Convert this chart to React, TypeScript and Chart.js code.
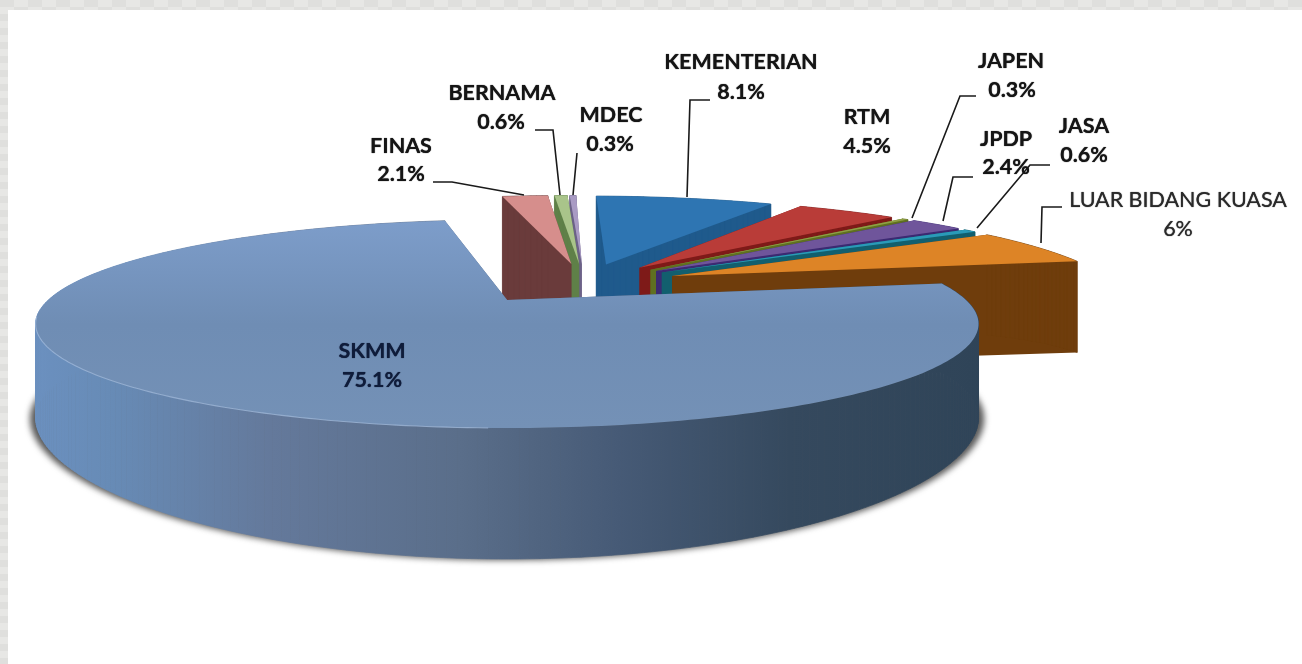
import React, { useEffect, useRef } from "react";
import { Chart, registerables } from "chart.js";

Chart.register(...registerables);

// ---- data ----
const categories = ["KEMENTERIAN", "RTM", "JAPEN", "JPDP", "JASA", "LUAR BIDANG KUASA", "SKMM", "FINAS", "BERNAMA", "MDEC"];
const shares = [8.1, 4.5, 0.3, 2.4, 0.6, 6, 75.1, 2.1, 0.6, 0.3];
const topColors = ["#2e75b2", "#b93c38", "#8f9f45", "#6f559b", "#2a9ab8", "#dd8426", "#7592ba", "#d68e8c", "#a9c48a", "#a99bc4"];
const wallColors = ["#1f5a8c", "#7e1a18", "#5f7020", "#3c2a72", "#125f6e", "#6f3d0c", "#556f90", "#6a3b3b", "#5f8048", "#6c6288"];

// ---- view ----
const ROTATION_DEG = 1.2;
const EXPLODE = 0.22;
const CENTRE = { x: 0.173, y: -0.18 };
const BIG_SLICE_SHIFT = -0.048;
const VIEW = { dx: -143, dy: -32, bx: 1.382, ay: 0.297, k: 0.23, h0: 0.271, h1: 0.032, h2: 0.0916 };

const labelAnchors = [
  { x: 741, y: 62, px: 741, py: 92 },
  { x: 867, y: 117, px: 867, py: 146 },
  { x: 1011, y: 61, px: 1012, py: 90 },
  { x: 1006, y: 139, px: 1006, py: 167 },
  { x: 1084, y: 126, px: 1084, py: 155 },
  { x: 1178, y: 200, px: 1178, py: 229 },
  { x: 372, y: 351, px: 372, py: 380 },
  { x: 401, y: 146, px: 401, py: 174 },
  { x: 502, y: 93, px: 501, py: 122 },
  { x: 611, y: 115, px: 610, py: 144 },
];
const leaders: ([number, number][] | null)[] = [
  [[710, 100], [690, 100], [687, 197]],
  null,
  [[976, 96], [960, 96], [912, 218]],
  [[973, 177], [953, 177], [943, 221]],
  [[1050, 165], [1030, 165], [977, 228]],
  [[1062, 207], [1042, 207], [1041, 243]],
  null,
  [[433, 182], [452, 182], [524, 195]],
  [[535, 130], [553, 130], [560, 195]],
  [[577, 153], [573, 195]],
];

const pie3d = {
  id: "pie3d",
  beforeDatasetDraw(chart: any) {
    const ctx: CanvasRenderingContext2D = chart.ctx;
    const meta = chart.getDatasetMeta(0);
    const first = meta.data[0];
    const R = first.outerRadius;
    const ox = first.x + VIEW.dx;
    const oy = first.y + VIEW.dy;
    const B = R * VIEW.bx, A = R * VIEW.ay;
    const project = (wx: number, wy: number, low: boolean) => {
      const s = 1 / (1 - VIEW.k * wy);
      const drop = low ? R * (VIEW.h0 + VIEW.h1 * wy + VIEW.h2 * wy * wy) : 0;
      return [ox + B * wx * s, oy + A * wy * s + drop];
    };
    const poly = (pts: number[][]) => {
      ctx.beginPath();
      pts.forEach((p, i) => (i ? ctx.lineTo(p[0], p[1]) : ctx.moveTo(p[0], p[1])));
      ctx.closePath();
    };
    const order = meta.data
      .map((el: any, i: number) => ({ el, i, mid: (el.startAngle + el.endAngle) / 2 }))
      .sort((a: any, b: any) => Math.sin(a.mid) - Math.sin(b.mid));

    for (const { el, i, mid } of order) {
      const big = shares[i] > 50;
      const ax = CENTRE.x + EXPLODE * Math.cos(mid) + (big ? BIG_SLICE_SHIFT : 0);
      const ay = CENTRE.y + EXPLODE * Math.sin(mid);
      const steps = Math.max(2, Math.ceil(((el.endAngle - el.startAngle) * 180) / Math.PI));
      const world: number[][] = [];
      for (let n = 0; n <= steps; n++) {
        const t = el.startAngle + ((el.endAngle - el.startAngle) * n) / steps;
        world.push([ax + Math.cos(t), ay + Math.sin(t)]);
      }
      const top = world.map((w) => project(w[0], w[1], false));
      const low = world.map((w) => project(w[0], w[1], true));
      const apexT = project(ax, ay, false);
      const apexL = project(ax, ay, true);
      const xs = top.map((p) => p[0]);
      const minX = Math.min(...xs), maxX = Math.max(...xs);
      const ys = top.map((p) => p[1]);
      const minY = Math.min(...ys), maxY = Math.max(...ys);

      let wall: any = wallColors[i];
      if (big) {
        wall = ctx.createLinearGradient(minX, 0, maxX, 0);
        wall.addColorStop(0, "#6b90bf");
        wall.addColorStop(0.08, "#678bb6");
        wall.addColorStop(0.25, "#64799b");
        wall.addColorStop(0.45, "#5a6e8a");
        wall.addColorStop(0.62, "#465a76");
        wall.addColorStop(0.8, "#35495e");
        wall.addColorStop(1, "#2f4458");
        // soft ground shadow under the large slice
        ctx.save();
        ctx.filter = "blur(3px)";
        ctx.fillStyle = "rgba(70,70,70,0.9)";
        const cx = (minX + maxX) / 2;
        poly([apexL, ...low.map((p) => [cx + (p[0] - cx) * 1.012, p[1] + 1])]);
        ctx.fill();
        ctx.restore();
      }
      ctx.fillStyle = wall;
      ctx.strokeStyle = wall;
      ctx.lineWidth = 0.7;
      // radial walls, then the outer wall one step at a time
      poly([apexT, top[0], low[0], apexL]);
      ctx.fill();
      poly([apexT, top[steps], low[steps], apexL]);
      ctx.fill();
      for (let n = 0; n < steps; n++) {
        poly([top[n], top[n + 1], low[n + 1], low[n]]);
        ctx.fill();
        ctx.stroke();
      }

      let face: any = el.options.backgroundColor;
      if (big) {
        face = ctx.createLinearGradient(0, minY, 0, maxY);
        face.addColorStop(0, "#7d9dca");
        face.addColorStop(0.5, "#6f8db4");
        face.addColorStop(1, "#7491b6");
      }
      ctx.fillStyle = face;
      poly([apexT, ...top]);
      ctx.fill();
      if (big) {
        ctx.strokeStyle = "rgba(165,190,222,0.7)";
        ctx.lineWidth = 1.1;
        ctx.beginPath();
        top.forEach((p, n) => {
          const a = el.startAngle + ((el.endAngle - el.startAngle) * n) / steps;
          if (Math.sin(a) > 0.15 && Math.cos(a) < -0.02) ctx.lineTo(p[0], p[1]);
        });
        ctx.stroke();
      }
    }

    // leader lines
    ctx.strokeStyle = "#1a1a1a";
    ctx.lineWidth = 1.6;
    leaders.forEach((pts) => {
      if (!pts) return;
      ctx.beginPath();
      pts.forEach((p, n) => (n ? ctx.lineTo(p[0], p[1]) : ctx.moveTo(p[0], p[1])));
      ctx.stroke();
    });

    // labels
    ctx.textAlign = "center";
    ctx.textBaseline = "middle";
    categories.forEach((name, i) => {
      const a = labelAnchors[i];
      const plain = name === "LUAR BIDANG KUASA";
      ctx.font = `${plain ? "normal" : "bold"} 21.5px Lato`;
      ctx.fillStyle = name === "SKMM" ? "#0f1c3a" : plain ? "#2a2a2a" : "#151515";
      ctx.shadowColor = ctx.fillStyle as string;
      ctx.shadowBlur = 1;
      ctx.fillText(name, a.x, a.y);
      ctx.fillText(`${shares[i]}%`, a.px, a.py);
    });
    ctx.shadowBlur = 0;
    return false;
  },
};

export default function App() {
  const ref = useRef<HTMLCanvasElement>(null);
  useEffect(() => {
    const chart = new Chart(ref.current!, {
      type: "pie",
      data: {
        labels: categories,
        datasets: [{ data: shares, backgroundColor: topColors, borderWidth: 0 }],
      },
      options: {
        responsive: false,
        animation: false,
        rotation: ROTATION_DEG,
        plugins: { legend: { display: false }, tooltip: { enabled: false } },
      },
      plugins: [pie3d],
    } as any);
    return () => chart.destroy();
  }, []);
  return (
    <div
      style={{
        position: "fixed",
        inset: 0,
        background: "conic-gradient(#e7e7e5 25%, #dfdfdd 0 50%, #e7e7e5 0 75%, #dfdfdd 0) 0 0 / 28px 14px",
      }}
    >
      <div style={{ position: "absolute", left: 8, top: 10, right: 0, bottom: 0, background: "#fff" }} />
      <canvas ref={ref} width={1302} height={664} style={{ position: "absolute", left: 0, top: 0 }} />
    </div>
  );
}
